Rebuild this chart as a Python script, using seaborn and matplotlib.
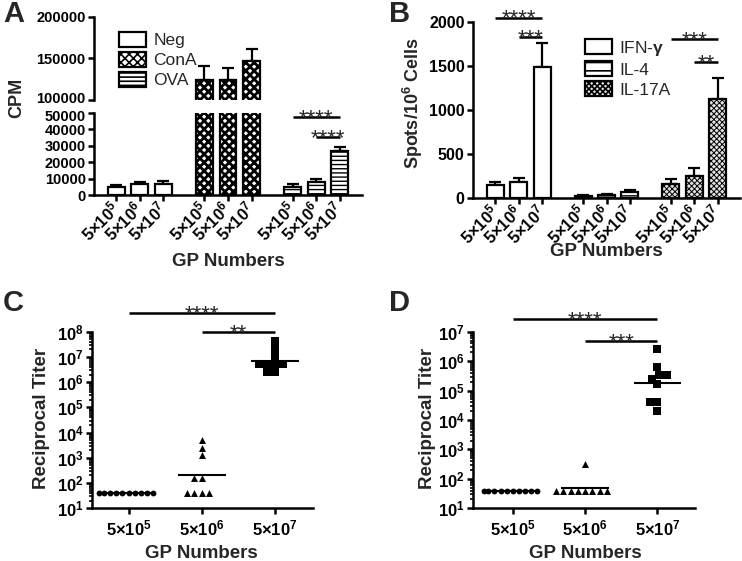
import matplotlib
matplotlib.use("Agg")
import matplotlib.pyplot as plt
from matplotlib.patches import Patch
from matplotlib.ticker import FixedLocator, FuncFormatter, LogLocator, NullFormatter
from matplotlib.transforms import ScaledTranslation
import numpy as np
import pandas as pd
import seaborn as sns

# ---- data -------------------------------------------------------------
dose_keys = ["5e5", "5e6", "5e7"]
dose_labels = [r"5$\times$10$^{5}$", r"5$\times$10$^{6}$", r"5$\times$10$^{7}$"]

# A: proliferation, CPM (mean, upper SEM)
stim_groups = ["Neg", "ConA", "OVA"]
cpm_neg = [4700, 6500, 6900]
cpm_neg_err = [1400, 1600, 1600]
cpm_cona = [124000, 124000, 147000]
cpm_cona_err = [17000, 15000, 14000]
cpm_ova = [5000, 8100, 27000]
cpm_ova_err = [1500, 1650, 2500]

# B: ELISPOT, spots / 10^6 cells
cytokines = ["IFN-$\\gamma$", "IL-4", "IL-17A"]
spots_ifng = [155, 190, 1490]
spots_ifng_err = [30, 37, 270]
spots_il4 = [30, 38, 70]
spots_il4_err = [8, 10, 22]
spots_il17a = [160, 255, 1125]
spots_il17a_err = [64, 88, 235]

# C / D: reciprocal titers per animal
titer_c_5e5 = [40, 40, 40, 40, 40, 40, 40, 40, 40, 40]
titer_c_5e6 = [40, 40, 40, 40, 160, 160, 1280, 2560, 5120]
titer_c_5e7 = [2621440, 2621440, 5242880, 5242880, 5242880, 5242880,
               10485760, 20971520, 41943040]
titer_d_5e5 = [40, 40, 40, 40, 40, 40, 40, 40, 40, 40]
titer_d_5e6 = [40, 40, 40, 40, 40, 40, 40, 40, 320]
titer_d_5e7 = [20480, 40960, 40960, 163840, 250000, 327680, 327680,
               655360, 2621440]

# ---- style ------------------------------------------------------------
sns.set_theme(style="ticks")
plt.rcParams.update({
    "font.family": ["Liberation Sans", "DejaVu Sans"],
    "font.weight": "bold",
    "mathtext.fontset": "custom",
    "mathtext.rm": "Liberation Sans",
    "mathtext.bf": "Liberation Sans:bold",
    "mathtext.default": "rm",
    "axes.linewidth": 1.8,
    "axes.edgecolor": "black",
    "xtick.color": "black",
    "ytick.color": "black",
    "xtick.major.width": 1.8,
    "ytick.major.width": 1.8,
    "xtick.major.size": 4.5,
    "ytick.major.size": 4.5,
    "ytick.minor.size": 2.5,
    "ytick.minor.width": 1.2,
    "xtick.labelsize": 12,
    "ytick.labelsize": 11.5,
    "ytick.major.pad": 1.5,
    "xtick.major.pad": 2.5,
    "hatch.linewidth": 1.2,
})

W, H = 742, 561
fig = plt.figure(figsize=(W / 100, H / 100), dpi=100)


def axes_px(left, top, right, bottom):
    return fig.add_axes([left / W, 1 - bottom / H, (right - left) / W, (bottom - top) / H])


def sig_bar(ax, x0, x1, y, stars):
    ax.plot([x0, x1], [y, y], color="black", lw=1.8, clip_on=False, solid_capstyle="butt")
    ax.annotate(stars, xy=((x0 + x1) / 2, y), xytext=(0, -5), textcoords="offset points",
                ha="center", va="baseline", fontsize=16, fontweight="normal",
                annotation_clip=False)


def bar_panel(ax, df, groups, values_col, hatches, faces, hatch_lw, errs):
    sns.barplot(data=df, x="group", y=values_col, hue="dose", order=groups,
                hue_order=dose_keys, palette=["white"] * 3, edgecolor="black",
                linewidth=1.6, gap=0.28, errorbar=None, legend=False, ax=ax)
    bars = sorted(ax.patches, key=lambda p: p.get_x())
    for i, p in enumerate(bars):
        p.set_hatch(hatches[i // 3])
        p.set_facecolor(faces[i // 3])
        if hasattr(p, "set_hatch_linewidth"):
            p.set_hatch_linewidth(hatch_lw[i // 3])
        p.set_zorder(2)
    xs = [p.get_x() + p.get_width() / 2 for p in bars]
    ys = [p.get_height() for p in bars]
    ax.errorbar(xs, ys, yerr=[np.zeros(len(errs)), errs], fmt="none", ecolor="black",
                elinewidth=1.6, capsize=4.2, capthick=1.6, zorder=1)
    ax.set_xlim(-0.52, 2.52)
    ax.set_xlabel("")
    ax.set_ylabel("")
    return xs


def rotated_ticks(ax, xs):
    ax.set_xticks(xs)
    ax.set_xticklabels(dose_labels * 3, rotation=45, ha="right", va="center",
                       rotation_mode="anchor")


def legend_handles(hatches, faces, hatch_lw):
    handles = []
    for h, f, lw in zip(hatches, faces, hatch_lw):
        p = Patch(facecolor=f, edgecolor="black", hatch=h, linewidth=1.6)
        if hasattr(p, "set_hatch_linewidth"):
            p.set_hatch_linewidth(lw)
        handles.append(p)
    return handles


# ---- panel A: broken axis ---------------------------------------------
df_a = pd.DataFrame({"group": np.repeat(stim_groups, 3), "dose": dose_keys * 3,
                     "cpm": cpm_neg + cpm_cona + cpm_ova})
err_a = cpm_neg_err + cpm_cona_err + cpm_ova_err
hatch_a = ["", "xxxx", "----"]
face_a = ["white", "white", "white"]
hatch_lw_a = [1.0, 2.0, 1.0]

ax_a_top = axes_px(94, 17, 362, 100)
ax_a = axes_px(94, 113, 362, 195)
bar_panel(ax_a_top, df_a, stim_groups, "cpm", hatch_a, face_a, hatch_lw_a, err_a)
xs_a = bar_panel(ax_a, df_a, stim_groups, "cpm", hatch_a, face_a, hatch_lw_a, err_a)
ax_a_top.set_ylim(100000, 200000)
ax_a.set_ylim(0, 50000)
ax_a_top.yaxis.set_major_locator(FixedLocator([100000, 150000, 200000]))
ax_a.yaxis.set_major_locator(FixedLocator([0, 10000, 20000, 30000, 40000, 50000]))
for a in (ax_a_top, ax_a):
    a.yaxis.set_major_formatter(FuncFormatter(lambda v, _: f"{v:.0f}"))
    a.tick_params(axis="y", labelsize=10.5)
sns.despine(ax=ax_a_top, bottom=True)
ax_a_top.tick_params(axis="x", which="both", bottom=False, labelbottom=False)
sns.despine(ax=ax_a)
rotated_ticks(ax_a, xs_a)
sig_bar(ax_a, xs_a[6], xs_a[8], 47500, "****")
sig_bar(ax_a, xs_a[7], xs_a[8], 35400, "****")

# nudge the two labels that meet at the axis break
fig.canvas.draw()
ax_a_top.get_yticklabels()[0].set_transform(
    ax_a_top.get_yticklabels()[0].get_transform() + ScaledTranslation(0, 2 / 72, fig.dpi_scale_trans))
ax_a.get_yticklabels()[-1].set_transform(
    ax_a.get_yticklabels()[-1].get_transform() + ScaledTranslation(0, -2 / 72, fig.dpi_scale_trans))

fig.legend(legend_handles(hatch_a, face_a, hatch_lw_a), stim_groups, loc="upper left",
           bbox_to_anchor=(110 / W, 1 - 23 / H), frameon=False, borderpad=0,
           prop={"weight": "normal", "size": 12.5}, handlelength=1.6,
           handleheight=0.95, labelspacing=0.2, handletextpad=0.4)

fig.text(17 / W, 1 - 98 / H, "CPM", rotation=90, ha="center", va="center", fontsize=13)
fig.text(228 / W, 1 - 261 / H, "GP Numbers", ha="center", va="center", fontsize=13.5)
fig.text(3 / W, 1 - 14 / H, "A", ha="left", va="center", fontsize=21)

# ---- panel B ----------------------------------------------------------
df_b = pd.DataFrame({"group": np.repeat(cytokines, 3), "dose": dose_keys * 3,
                     "spots": spots_ifng + spots_il4 + spots_il17a})
err_b = spots_ifng_err + spots_il4_err + spots_il17a_err
hatch_b = ["", "--", "xxxxxx"]
face_b = ["white", "white", "#e2e2e2"]
hatch_lw_b = [1.0, 1.0, 0.7]

ax_b = axes_px(473, 22, 740, 198.5)
xs_b = bar_panel(ax_b, df_b, cytokines, "spots", hatch_b, face_b, hatch_lw_b, err_b)
ax_b.set_ylim(0, 2000)
ax_b.yaxis.set_major_locator(FixedLocator([0, 500, 1000, 1500, 2000]))
sns.despine(ax=ax_b)
rotated_ticks(ax_b, xs_b)
sig_bar(ax_b, xs_b[0], xs_b[2], 2050, "****")
sig_bar(ax_b, xs_b[1], xs_b[2], 1830, "***")
sig_bar(ax_b, xs_b[6], xs_b[8], 1807, "***")
sig_bar(ax_b, xs_b[7], xs_b[8], 1547, "**")

fig.legend(legend_handles(hatch_b, face_b, hatch_lw_b), cytokines, loc="upper left",
           bbox_to_anchor=(576 / W, 1 - 30 / H), frameon=False, borderpad=0,
           prop={"weight": "normal", "size": 12.5}, handlelength=1.6,
           handleheight=0.95, labelspacing=0.2, handletextpad=0.4)

fig.text(413 / W, 1 - 103 / H, "Spots/10$^{6}$ Cells", rotation=90, ha="center",
         va="center", fontsize=13)
fig.text(606 / W, 1 - 252 / H, "GP Numbers", ha="center", va="center", fontsize=13.5)
fig.text(389 / W, 1 - 14 / H, "B", ha="left", va="center", fontsize=21)


# ---- panels C / D -----------------------------------------------------
def titer_panel(ax, groups, ymax, xmin):
    df = pd.DataFrame({"dose": np.repeat(dose_keys, [len(g) for g in groups]),
                       "titer": np.concatenate(groups)})
    for key, marker, size in zip(dose_keys, ["o", "^", "s"], [4.2, 5.0, 5.4]):
        sns.swarmplot(data=df[df["dose"] == key], x="dose", y="titer", order=dose_keys,
                      marker=marker, color="black", size=size, linewidth=0,
                      log_scale=True, ax=ax)
    gmean = df.groupby("dose")["titer"].apply(lambda v: np.exp(np.log(v).mean()))
    for i, key in enumerate(dose_keys):
        ax.hlines(gmean[key], i - 0.33, i + 0.33, color="black", lw=1.5, zorder=1)
    ax.set_ylim(10, ymax)
    ax.set_xlim(xmin, 2.52)
    decades = np.arange(1, int(np.log10(ymax)) + 1)
    ax.set_yticks(10.0 ** decades)
    ax.set_yticklabels([f"10$^{{{d}}}$" for d in decades], fontsize=12)
    ax.yaxis.set_minor_locator(LogLocator(base=10, subs=np.arange(2, 10), numticks=50))
    ax.yaxis.set_minor_formatter(NullFormatter())
    ax.set_xticks(range(3))
    ax.set_xticklabels(dose_labels, fontsize=12)
    ax.set_xlabel("")
    ax.set_ylabel("")
    sns.despine(ax=ax)


ax_c = axes_px(92, 331.7, 313, 508.3)
titer_panel(ax_c, [titer_c_5e5, titer_c_5e6, titer_c_5e7], 1e8, -0.5)
sig_bar(ax_c, 0, 2, 10 ** 8.74, "****")
sig_bar(ax_c, 1, 2, 10 ** 7.98, "**")
fig.text(42 / W, 1 - 418 / H, "Reciprocal Titer", rotation=90, ha="center", va="center",
         fontsize=13.5)
fig.text(201 / W, 1 - 553 / H, "GP Numbers", ha="center", va="center", fontsize=13.5)
fig.text(3 / W, 1 - 303 / H, "C", ha="left", va="center", fontsize=21)

ax_d = axes_px(473, 331.7, 695, 508.3)
titer_panel(ax_d, [titer_d_5e5, titer_d_5e6, titer_d_5e7], 1e7, -0.55)
sig_bar(ax_d, 0, 2, 10 ** 7.43, "****")
sig_bar(ax_d, 1, 2, 10 ** 6.69, "***")
fig.text(427 / W, 1 - 418 / H, "Reciprocal Titer", rotation=90, ha="center", va="center",
         fontsize=13.5)
fig.text(585 / W, 1 - 553 / H, "GP Numbers", ha="center", va="center", fontsize=13.5)
fig.text(389 / W, 1 - 303 / H, "D", ha="left", va="center", fontsize=21)

fig.savefig("out.png", dpi=100)
